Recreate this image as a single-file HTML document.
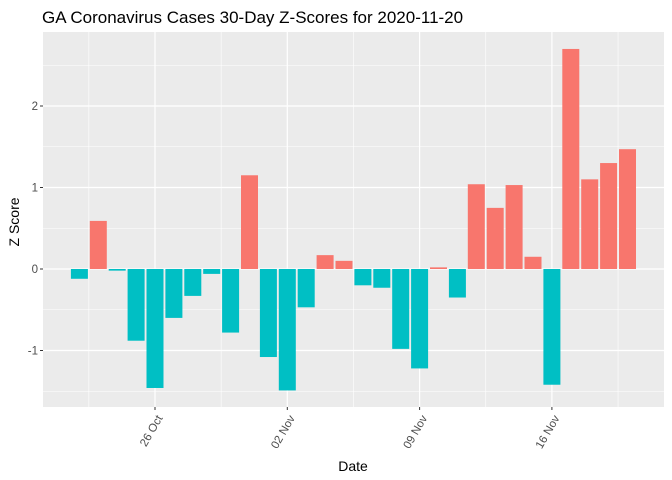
<!DOCTYPE html>
<html><head><meta charset="utf-8"><style>
body{margin:0;background:#fff;}
svg{display:block;font-family:"Liberation Sans",Arial,sans-serif;}
</style></head><body>
<svg id="chart" width="672" height="480">
<text x="42" y="23" font-size="17" fill="#000">GA Coronavirus Cases 30-Day Z-Scores for 2020-11-20</text>
<text transform="translate(19,222) rotate(-90)" text-anchor="middle" font-size="14" fill="#000">Z Score</text>
<text x="353" y="471" text-anchor="middle" font-size="14" fill="#000">Date</text>
</svg>
<script>
const dates = ["2020-10-22","2020-10-23","2020-10-24","2020-10-25","2020-10-26","2020-10-27","2020-10-28","2020-10-29","2020-10-30","2020-10-31","2020-11-01","2020-11-02","2020-11-03","2020-11-04","2020-11-05","2020-11-06","2020-11-07","2020-11-08","2020-11-09","2020-11-10","2020-11-11","2020-11-12","2020-11-13","2020-11-14","2020-11-15","2020-11-16","2020-11-17","2020-11-18","2020-11-19","2020-11-20"];
const zscores = [-0.12,0.59,-0.02,-0.88,-1.46,-0.60,-0.33,-0.06,-0.78,1.15,-1.08,-1.49,-0.47,0.17,0.10,-0.20,-0.23,-0.98,-1.22,0.02,-0.35,1.04,0.75,1.03,0.15,-1.42,2.70,1.10,1.30,1.47];
const yTicks = [-1,0,1,2];
const xTickDates = ["2020-10-26","2020-11-02","2020-11-09","2020-11-16"];
const xTickLabels = ["26 Oct","02 Nov","09 Nov","16 Nov"];

const NS="http://www.w3.org/2000/svg";
const svg=document.getElementById('chart');
const P={l:43,r:664,t:32,b:407};
const day=86400000;
const d0=Date.parse("2020-10-26");
const x=d=>155+(Date.parse(d)-d0)/day*18.9;
const xd=n=>155+n*18.9;
const y=v=>269-v*81.5;
function mk(tag,attrs){const e=document.createElementNS(NS,tag);for(const k in attrs)e.setAttribute(k,attrs[k]);svg.appendChild(e);return e;}

const bg=mk('rect',{x:P.l,y:P.t,width:P.r-P.l,height:P.b-P.t,fill:'#EBEBEB'});


for(let v=-1.5;v<=2.5;v+=1){const g=mk('line',{x1:P.l,x2:P.r,y1:y(v),y2:y(v),stroke:'#fff','stroke-width':0.6});

}
for(let n=-3.5;n<=28;n+=7){const g=mk('line',{x1:xd(n),x2:xd(n),y1:P.t,y2:P.b,stroke:'#fff','stroke-width':0.6});

}
yTicks.forEach(v=>{const g=mk('line',{x1:P.l,x2:P.r,y1:y(v),y2:y(v),stroke:'#fff','stroke-width':1.2});


const t=mk('line',{x1:P.l-3,x2:P.l,y1:y(v),y2:y(v),stroke:'#333','stroke-width':1});


const l=mk('text',{x:P.l-5,y:y(v)+4,'text-anchor':'end','font-size':11.5,fill:'#4D4D4D'});l.textContent=String(v);

});
xTickDates.forEach((d,i)=>{const g=mk('line',{x1:x(d),x2:x(d),y1:P.t,y2:P.b,stroke:'#fff','stroke-width':1.2});


const t=mk('line',{x1:x(d),x2:x(d),y1:P.b,y2:P.b+3,stroke:'#333','stroke-width':1});


const l=mk('text',{transform:`translate(${x(d)+8},${P.b+11}) rotate(-60)`,'text-anchor':'end','font-size':11.5,fill:'#4D4D4D'});l.textContent=xTickLabels[i];

});
dates.forEach((d,i)=>{const v=zscores[i];const cx=x(d);
const b=mk('rect',{x:cx-8.5,width:17,y:Math.min(y(v),y(0)),height:Math.abs(y(v)-y(0)),fill:v>=0?'#F8766D':'#00BFC4'});

});
</script>
</body></html>
